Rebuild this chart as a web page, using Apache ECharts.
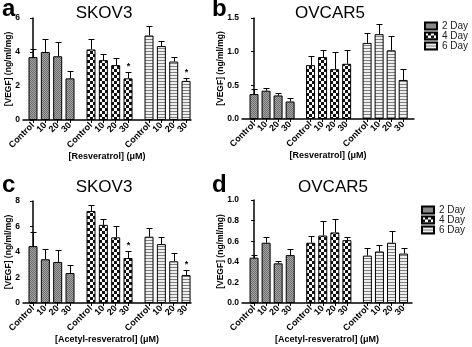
<!DOCTYPE html>
<html>
<head>
<meta charset="utf-8">
<script src="https://cdn.jsdelivr.net/npm/echarts@6/dist/echarts.min.js"></script>
<style>
html, body { margin: 0; padding: 0; background: #fff; }
#main { width: 472px; height: 347px; }
</style>
</head>
<body>
<div id="main"></div>
<script>
// categories
var doses = ['Control', '10', '20', '30'];
var days = ['2 Day', '4 Day', '6 Day'];

// a: SKOV3, resveratrol (mean / SEM per day)
var aMean = [[3.7, 4.0, 3.75, 2.45], [4.15, 3.52, 3.23, 2.45], [4.97, 4.35, 3.44, 2.3]];
var aErr = [[0.5, 0.75, 0.85, 0.45], [0.63, 0.38, 0.44, 0.35], [0.58, 0.3, 0.27, 0.2]];
var aStar = [[0, 0, 0, 0], [0, 0, 0, 1], [0, 0, 0, 1]];

// b: OVCAR5, resveratrol
var bMean = [[0.37, 0.42, 0.35, 0.26], [0.80, 0.92, 0.74, 0.82], [1.13, 1.26, 1.02, 0.58]];
var bErr = [[0.07, 0.04, 0.04, 0.05], [0.13, 0.11, 0.25, 0.2], [0.15, 0.15, 0.22, 0.16]];
var bStar = [[0, 0, 0, 0], [0, 0, 0, 0], [0, 0, 0, 0]];

// c: SKOV3, acetyl-resveratrol
var cMean = [[4.46, 3.43, 3.22, 2.35], [7.22, 6.13, 5.15, 3.53], [5.2, 4.62, 3.27, 2.19]];
var cErr = [[1.13, 0.77, 0.9, 0.6], [0.46, 0.49, 0.9, 0.58], [0.65, 0.56, 0.67, 0.36]];
var cStar = [[0, 0, 0, 0], [0, 0, 0, 1], [0, 0, 0, 1]];

// d: OVCAR5, acetyl-resveratrol
var dMean = [[0.44, 0.585, 0.385, 0.465], [0.585, 0.655, 0.685, 0.61], [0.46, 0.5, 0.585, 0.48]];
var dErr = [[0.03, 0.06, 0.025, 0.06], [0.065, 0.14, 0.13, 0.03], [0.075, 0.065, 0.115, 0.05]];
var dStar = [[0, 0, 0, 0], [0, 0, 0, 0], [0, 0, 0, 0]];

var ticksA = [0, 2, 4, 6];
var ticksB = [0, 0.5, 1.0, 1.5];
var ticksC = [0, 2, 4, 6, 8];
var ticksD = [0, 0.2, 0.4, 0.6, 0.8, 1.0];

var FONT = 'Liberation Sans, Arial, sans-serif';
var STRIDE = 4.7;   // group spacing in bar slots

function pos(g, i) { return +(g * STRIDE + i).toFixed(2); }

function makePattern(kind) {
    var c = document.createElement('canvas');
    var ctx = c.getContext('2d');
    if (kind === 0) {
        c.width = 2; c.height = 2;
        ctx.fillStyle = '#a4a4a4'; ctx.fillRect(0, 0, 2, 2);
        ctx.fillStyle = '#6e6e6e'; ctx.fillRect(0, 0, 1, 1); ctx.fillRect(1, 1, 1, 1);
    } else if (kind === 1) {
        c.width = 6; c.height = 6;
        ctx.fillStyle = '#111'; ctx.fillRect(0, 0, 6, 6);
        ctx.fillStyle = '#fff'; ctx.fillRect(0, 0, 3, 3); ctx.fillRect(3, 3, 3, 3);
    } else {
        c.width = 1; c.height = 3;
        ctx.fillStyle = '#eeeeee'; ctx.fillRect(0, 0, 1, 3);
        ctx.fillStyle = '#808080'; ctx.fillRect(0, 0, 1, 1);
    }
    return { image: c, repeat: 'repeat' };
}
var patterns = [makePattern(0), makePattern(1), makePattern(2)];

var panels = [
    { mean: aMean, err: aErr, star: aStar, ticks: ticksA, dec: 0, xname: '[Resveratrol] (\u03bcM)',
      grid: { left: 23, top: 18, width: 168, height: 102 }, xmin: -0.81, xmax: 12.8, nameGapY: 10 },
    { mean: bMean, err: bErr, star: bStar, ticks: ticksB, dec: 1, xname: '[Resveratrol] (\u03bcM)',
      grid: { left: 242, top: 18, width: 172, height: 101 }, xmin: -1.0, xmax: 13.3, nameGapY: 17 },
    { mean: cMean, err: cErr, star: cStar, ticks: ticksC, dec: 0, xname: '[Acetyl-resveratrol] (\u03bcM)',
      grid: { left: 23, top: 201, width: 168, height: 102 }, xmin: -0.81, xmax: 12.8, nameGapY: 10 },
    { mean: dMean, err: dErr, star: dStar, ticks: ticksD, dec: 1, xname: '[Acetyl-resveratrol] (\u03bcM)',
      grid: { left: 242, top: 200, width: 170, height: 103 }, xmin: -1.0, xmax: 13.1, nameGapY: 17 }
];

var positions = [];
var labelOf = {};
for (var g = 0; g < 3; g++) {
    for (var i = 0; i < 4; i++) {
        positions.push(pos(g, i));
        labelOf[pos(g, i).toFixed(2)] = doses[i];
    }
}

var grids = [], xAxes = [], yAxes = [], series = [];

panels.forEach(function (p, pi) {
    grids.push(p.grid);
    var last = p.ticks[p.ticks.length - 1];
    // blank labels at both ends keep the min/max overlap check away from the real ones
    var labelValues = [p.xmin].concat(positions, [p.xmax]);
    xAxes.push({
        type: 'value', gridIndex: pi, min: p.xmin, max: p.xmax,
        splitLine: { show: false },
        axisLine: { lineStyle: { color: '#000', width: 1.5 } },
        axisTick: { customValues: positions, length: 3, lineStyle: { color: '#000' } },
        axisLabel: {
            customValues: labelValues, rotate: 45, margin: 4,
            fontSize: 9, fontWeight: 'bold', fontFamily: FONT, color: '#000',
            formatter: function (v) { return labelOf[(+v).toFixed(2)] || ''; }
        },
        name: p.xname, nameLocation: 'middle', nameGap: 32, nameMoveOverlap: false,
        nameTextStyle: { fontSize: 9, fontWeight: 'bold', fontFamily: FONT, color: '#000' }
    });
    yAxes.push({
        type: 'value', gridIndex: pi, min: 0, max: last, interval: p.ticks[1],
        splitLine: { show: false },
        axisLine: { show: true, lineStyle: { color: '#000', width: 1.5 } },
        axisTick: { show: true, length: 3, lineStyle: { color: '#000' } },
        axisLabel: {
            margin: 3, fontSize: 8.5, fontWeight: 'bold', fontFamily: FONT, color: '#000',
            showMinLabel: true, showMaxLabel: true,
            formatter: function (v) { return (+v).toFixed(p.dec); }
        },
        name: '[VEGF] (ng/ml/mg)', nameLocation: 'middle', nameGap: p.nameGapY,
        nameMoveOverlap: false,
        nameTextStyle: { fontSize: 8.5, fontWeight: 'bold', fontFamily: FONT, color: '#000' }
    });

    var errData = [];
    days.forEach(function (day, d) {
        var data = [];
        for (var k = 0; k < 4; k++) {
            data.push([pos(d, k), p.mean[d][k]]);
            errData.push([pos(d, k), p.mean[d][k], p.err[d][k], p.star[d][k]]);
        }
        series.push({
            name: day, type: 'bar', xAxisIndex: pi, yAxisIndex: pi,
            barWidth: 9, barGap: '-100%', data: data, silent: true,
            itemStyle: { color: patterns[d], borderColor: '#000', borderWidth: 1 }
        });
    });

    series.push({
        type: 'custom', xAxisIndex: pi, yAxisIndex: pi, z: 5, silent: true, clip: false,
        data: errData,
        renderItem: function (params, api) {
            var x = api.value(0), y = api.value(1), e = api.value(2);
            var p0 = api.coord([x, y]);
            var p1 = api.coord([x, y + e]);
            var cx = Math.round(p0[0]) + 0.5;
            var ty = Math.round(p1[1]) + 0.5;
            var children = [
                { type: 'line', shape: { x1: cx, y1: p0[1], x2: cx, y2: ty }, style: { stroke: '#000', lineWidth: 1 } },
                { type: 'line', shape: { x1: cx - 3, y1: ty, x2: cx + 3, y2: ty }, style: { stroke: '#000', lineWidth: 1 } }
            ];
            if (api.value(3)) {
                children.push({ type: 'text', style: { text: '*', x: cx, y: ty - 1, align: 'center', verticalAlign: 'bottom',
                    font: 'bold 9px ' + FONT, fill: '#000' } });
            }
            return { type: 'group', children: children };
        }
    });
});

function txt(s, x, y, size, weight, align) {
    return { type: 'text', x: x, y: y, silent: true,
        style: { text: s, font: weight + ' ' + size + 'px ' + FONT, fill: '#000', align: align || 'left', verticalAlign: 'middle' } };
}

var legendStyle = { fontSize: 10, fontFamily: FONT, color: '#222', lineHeight: 9 };

var myChart = echarts.init(document.getElementById('main'));
var option = {
    animation: false,
    grid: grids,
    xAxis: xAxes,
    yAxis: yAxes,
    legend: [
        { left: 424, top: 21, padding: 0, orient: 'vertical', icon: 'rect', itemWidth: 12, itemHeight: 7, itemGap: 0,
          data: days, textStyle: legendStyle, selectedMode: false },
        { left: 421, top: 205, padding: 0, orient: 'vertical', icon: 'rect', itemWidth: 12, itemHeight: 7, itemGap: 0,
          data: days, textStyle: legendStyle, selectedMode: false }
    ],
    graphic: [
        txt('a', 2, 9, 24, 'bold'),
        txt('b', 212, 9, 24, 'bold'),
        txt('c', 2, 185, 24, 'bold'),
        txt('d', 212, 185, 24, 'bold'),
        txt('SKOV3', 104, 13, 17, 'normal', 'center'),
        txt('OVCAR5', 330, 13, 17, 'normal', 'center'),
        txt('SKOV3', 104, 187, 17, 'normal', 'center'),
        txt('OVCAR5', 333, 187, 17, 'normal', 'center')
    ],
    series: series
};
myChart.setOption(option);
</script>
</body>
</html>
